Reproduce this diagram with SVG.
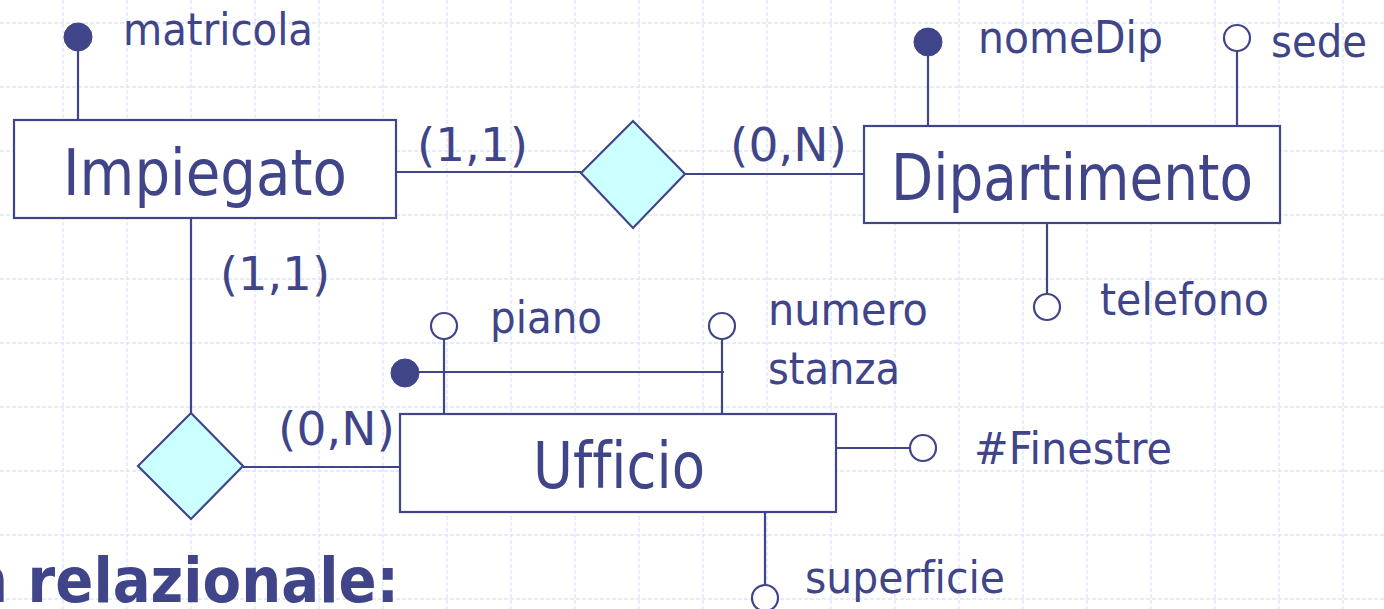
<svg xmlns="http://www.w3.org/2000/svg" width="1384" height="609" viewBox="0 0 1384 609">
<style>
.grid{stroke:#dde5fa;stroke-width:1.3;stroke-dasharray:4 2;fill:none}
.ln{stroke:#40458a;stroke-width:2.2;fill:none}
.ent{stroke:#40458a;stroke-width:2.2;fill:#ffffff}
.rel{stroke:#40458a;stroke-width:2.2;fill:#ccffff}
.key{fill:#40458a;stroke:#40458a;stroke-width:1}
.opt{fill:#ffffff;stroke:#40458a;stroke-width:2.2}
text{font-family:"DejaVu Sans","Liberation Sans",sans-serif;fill:#40458a;font-variant-ligatures:none;font-feature-settings:"liga" 0}
.big{font-size:64px}
.card{font-size:47px}
.attr{font-size:44px}
.title{font-size:62px;font-weight:bold}
</style>
<rect width="1384" height="609" fill="#ffffff"/>
<path class="grid" d="M63 0V609M127 0V609M191 0V609M255 0V609M319 0V609M383 0V609M447 0V609M511 0V609M575 0V609M639 0V609M703 0V609M767 0V609M831 0V609M895 0V609M959 0V609M1023 0V609M1087 0V609M1151 0V609M1215 0V609M1279 0V609M1343 0V609M0 23H1384M0 87H1384M0 151H1384M0 215H1384M0 279H1384M0 343H1384M0 407H1384M0 471H1384M0 535H1384M0 599H1384"/>

<g id="connectors">
<line class="ln" x1="396" y1="172" x2="581" y2="172"/>
<line class="ln" x1="685" y1="174" x2="864" y2="174"/>
<line class="ln" x1="191" y1="218" x2="191" y2="413"/>
<line class="ln" x1="243" y1="467" x2="400" y2="467"/>
<text class="card" x="417" y="161" textLength="111" lengthAdjust="spacingAndGlyphs">(1,1)</text>
<text class="card" x="730" y="161" textLength="117" lengthAdjust="spacingAndGlyphs">(0,N)</text>
<text class="card" x="220" y="290" textLength="110" lengthAdjust="spacingAndGlyphs">(1,1)</text>
<text class="card" x="278" y="445" textLength="117" lengthAdjust="spacingAndGlyphs">(0,N)</text>
</g>

<g id="impiegato">
<line class="ln" x1="78" y1="50" x2="78" y2="120"/>
<circle class="key" cx="78" cy="37" r="14"/>
<text class="attr" x="123" y="45" textLength="190" lengthAdjust="spacingAndGlyphs">matricola</text>
<rect class="ent" x="14" y="120" width="382" height="98"/>
<text class="big" x="63" y="195" textLength="284" lengthAdjust="spacingAndGlyphs">Impiegato</text>
</g>

<g id="rel-afferenza">
<polygon class="rel" points="581,173 633,121 685,174 633,228"/>
</g>

<g id="dipartimento">
<line class="ln" x1="928" y1="54" x2="928" y2="126"/>
<circle class="key" cx="928" cy="42" r="14"/>
<text class="attr" x="978" y="53" textLength="185" lengthAdjust="spacingAndGlyphs">nomeDip</text>
<line class="ln" x1="1237" y1="51" x2="1237" y2="126"/>
<circle class="opt" cx="1237" cy="38" r="13"/>
<text class="attr" x="1271" y="57" textLength="96" lengthAdjust="spacingAndGlyphs">sede</text>
<line class="ln" x1="1047" y1="223" x2="1047" y2="294"/>
<circle class="opt" cx="1047" cy="307" r="13"/>
<text class="attr" x="1100" y="315" textLength="169" lengthAdjust="spacingAndGlyphs">telefono</text>
<rect class="ent" x="864" y="126" width="416" height="97"/>
<text class="big" x="891" y="200" textLength="362" lengthAdjust="spacingAndGlyphs">Dipartimento</text>
</g>

<g id="rel-ufficio">
<polygon class="rel" points="138,466 191,413 243,466 191,519"/>
</g>

<g id="ufficio">
<line class="ln" x1="444" y1="339" x2="444" y2="414"/>
<circle class="opt" cx="444" cy="326" r="13"/>
<text class="attr" x="490" y="333" textLength="112" lengthAdjust="spacingAndGlyphs">piano</text>
<line class="ln" x1="722" y1="339" x2="722" y2="414"/>
<circle class="opt" cx="722" cy="326" r="13"/>
<text class="attr" x="768" y="325" textLength="160" lengthAdjust="spacingAndGlyphs">numero</text>
<text class="attr" x="768" y="384" textLength="132" lengthAdjust="spacingAndGlyphs">stanza</text>
<line class="ln" x1="405" y1="372" x2="724" y2="372"/>
<circle class="key" cx="405" cy="373" r="14"/>
<line class="ln" x1="836" y1="448" x2="910" y2="448"/>
<circle class="opt" cx="923" cy="448" r="13"/>
<text class="attr" x="974" y="464" textLength="198" lengthAdjust="spacingAndGlyphs">#Finestre</text>
<line class="ln" x1="765" y1="512" x2="765" y2="585"/>
<circle class="opt" cx="765" cy="598" r="13"/>
<text class="attr" x="805" y="593" textLength="200" lengthAdjust="spacingAndGlyphs">superficie</text>
<rect class="ent" x="400" y="414" width="436" height="98"/>
<text class="big" x="533" y="488" textLength="172" lengthAdjust="spacingAndGlyphs">Ufficio</text>
</g>

<text class="title" x="-32" y="602" textLength="431" lengthAdjust="spacingAndGlyphs">n relazionale:</text>
</svg>
